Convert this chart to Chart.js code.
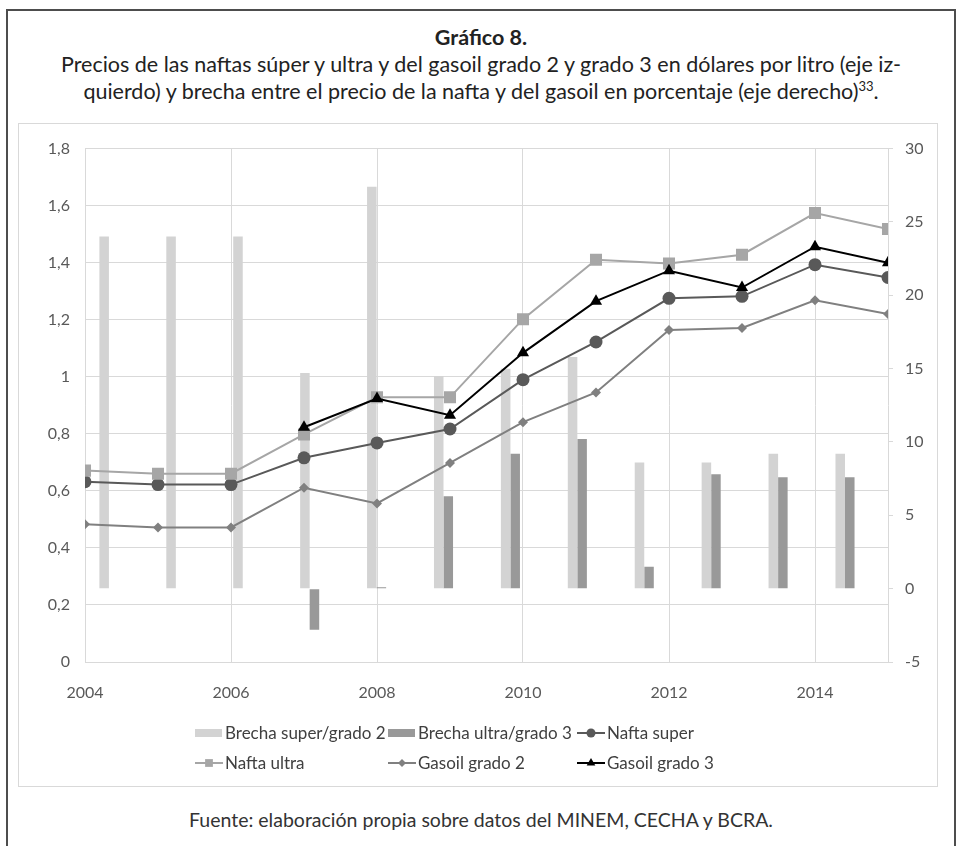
<!DOCTYPE html>
<html>
<head>
<meta charset="utf-8">
<script src="https://cdn.jsdelivr.net/npm/chart.js@4.4.1/dist/chart.umd.min.js"></script>
<style>
  html, body { margin: 0; padding: 0; background: #fff; }
  body { width: 962px; height: 846px; position: relative; overflow: hidden;
         font-family: Lato, "Open Sans", sans-serif; color: #222; }
  #box { position: absolute; left: 6px; top: 9px; width: 950px; height: 860px;
         border: 2px solid #4d4d4d; border-bottom: none; box-sizing: border-box; }
  .ttl { position: absolute; left: 0; width: 962px; text-align: center; font-size: 21.5px; line-height: 27px; }
  #t1 { top: 24px; font-weight: bold; }
  #t2 { top: 51px; }
  #t3 { top: 78px; }
  sup { font-size: 13px; line-height: 0; vertical-align: 8px; }
  #frame { position: absolute; left: 18px; top: 123px; width: 920px; height: 664px;
           border: 1px solid #d9d9d9; box-sizing: border-box; }
  #wrap { position: absolute; left: 18px; top: 124px; width: 918px; height: 660px; }
  #src { position: absolute; left: 0; width: 962px; top: 808px; text-align: center;
         font-size: 19.5px; line-height: 24px; color: #333; }
</style>
</head>
<body>
<div id="box"></div>
<div class="ttl" id="t1">Gráfico 8.</div>
<div class="ttl" id="t2">Precios de las naftas súper y ultra y del gasoil grado 2 y grado 3 en dólares por litro (eje iz-</div>
<div class="ttl" id="t3">quierdo) y brecha entre el precio de la nafta y del gasoil en porcentaje (eje derecho)<sup>33</sup>.</div>
<div id="frame"></div>
<div id="wrap"><canvas id="c" width="918" height="660"></canvas></div>
<div id="src">Fuente: elaboración propia sobre datos del MINEM, CECHA y BCRA.</div>
<script>
// Años de la serie
const years = [2004, 2005, 2006, 2007, 2008, 2009, 2010, 2011, 2012, 2013, 2014, 2015];

// Brechas en porcentaje (eje derecho)
const brechaSuperGrado2 = [24.0, 24.0, 24.0, 14.7, 27.4, 14.5, 15.0, 15.8, 8.6, 8.6, 9.2, 9.2];
const brechaUltraGrado3 = [null, null, null, -2.8, 0.1, 6.3, 9.2, 10.2, 1.5, 7.8, 7.6, 7.6];

// Precios en dólares por litro (eje izquierdo)
const naftaSuper   = [0.632, 0.622, 0.622, 0.716, 0.768, 0.817, 0.990, 1.122, 1.275, 1.282, 1.393, 1.348];
const naftaUltra   = [0.671, 0.660, 0.660, 0.798, 0.928, 0.928, 1.202, 1.410, 1.397, 1.428, 1.574, 1.518];
const gasoilGrado2 = [0.483, 0.472, 0.472, 0.611, 0.556, 0.698, 0.841, 0.945, 1.164, 1.171, 1.268, 1.220];
const gasoilGrado3 = [null, null, null, 0.823, 0.924, 0.865, 1.084, 1.265, 1.372, 1.313, 1.456, 1.400];

// Escalas
const leftMin = 0, leftMax = 1.8, leftStep = 0.2;
const rightMin = -5, rightMax = 30, rightStep = 5;
const yearMin = 2004, yearMax = 2015, yearStep = 2;

const FONT = 'Lato, "Open Sans", sans-serif';
const GRID = '#d9d9d9';
const TICK = '#595959';

const points = vals => years.map((y, i) => ({ x: y, y: vals[i] }));
const comma = v => String(Math.round(v * 10) / 10).replace('.', ',');

function lineSet(label, vals, color, style, radius, order) {
  return {
    type: 'line', label, data: points(vals), xAxisID: 'x', yAxisID: 'y',
    borderColor: color, backgroundColor: color, borderWidth: 2,
    pointStyle: style, pointRadius: radius, pointHoverRadius: radius,
    pointBackgroundColor: color, pointBorderColor: color, pointBorderWidth: 0,
    tension: 0, spanGaps: false, order
  };
}

// Leyenda en dos filas y tres columnas
const rowLegend = {
  id: 'rowLegend',
  afterDraw(chart) {
    const ctx = chart.ctx;
    const cols = [177, 370, 559];
    const rows = [609, 639];
    ctx.save();
    ctx.font = '17px ' + FONT;
    ctx.textBaseline = 'middle';
    chart.data.datasets.forEach((d, i) => {
      const x = cols[i % 3], y = rows[Math.floor(i / 3)];
      if (d.type === 'bar') {
        ctx.fillStyle = d.backgroundColor;
        ctx.fillRect(x, y - 4, 27, 8);
      } else {
        ctx.strokeStyle = d.borderColor;
        ctx.lineWidth = 2;
        ctx.beginPath();
        ctx.moveTo(x, y); ctx.lineTo(x + 28, y);
        ctx.stroke();
        ctx.fillStyle = d.borderColor;
        Chart.helpers.drawPoint(ctx, {
          pointStyle: d.pointStyle, radius: d.legendRadius, rotation: 0, borderWidth: 0
        }, x + 14, y);
      }
      ctx.fillStyle = '#404040';
      ctx.fillText(d.label, x + 30, y + 1);
    });
    ctx.restore();
  }
};

const dsGasoil3 = lineSet('Gasoil grado 3', gasoilGrado3, '#000000', 'triangle', 7, 0);
dsGasoil3.legendRadius = 5;
const dsGasoil2 = lineSet('Gasoil grado 2', gasoilGrado2, '#808080', 'rectRot', 5, 1);
dsGasoil2.legendRadius = 4;
const dsUltra = lineSet('Nafta ultra', naftaUltra, '#a6a6a6', 'rect', 8.5, 2);
dsUltra.legendRadius = 5.5;
const dsSuper = lineSet('Nafta super', naftaSuper, '#595959', 'circle', 6.5, 3);
dsSuper.legendRadius = 4.5;

new Chart(document.getElementById('c'), {
  type: 'bar',
  data: {
    labels: years.map(String),
    datasets: [
      { type: 'bar', label: 'Brecha super/grado 2', data: brechaSuperGrado2,
        xAxisID: 'xb', yAxisID: 'y2', backgroundColor: '#d3d3d3',
        categoryPercentage: 0.57, barPercentage: 1.0, order: 4 },
      { type: 'bar', label: 'Brecha ultra/grado 3', data: brechaUltraGrado3,
        xAxisID: 'xb', yAxisID: 'y2', backgroundColor: '#999999',
        categoryPercentage: 0.57, barPercentage: 1.0, order: 5 },
      dsSuper, dsUltra, dsGasoil2, dsGasoil3
    ]
  },
  options: {
    responsive: false,
    animation: false,
    events: [],
    layout: { padding: { top: 20, left: 0, right: 0, bottom: 0 } },
    plugins: { legend: { display: false }, tooltip: { enabled: false }, title: { display: false } },
    scales: {
      x: {
        type: 'linear', position: 'bottom', min: yearMin, max: yearMax, offset: false,
        ticks: { stepSize: yearStep, color: TICK, font: { family: FONT, size: 16 }, padding: 21,
                 maxRotation: 0, callback: v => String(v) },
        afterBuildTicks: s => { s.ticks = s.ticks.filter(t => (t.value - yearMin) % yearStep === 0); },
        afterFit: s => { s.height = 122; },
        grid: { color: GRID, drawTicks: false, lineWidth: 1, offset: false },
        border: { color: GRID }
      },
      xb: {
        type: 'category', position: 'bottom', display: false, offset: true,
        grid: { display: false }
      },
      y: {
        type: 'linear', position: 'left', min: leftMin, max: leftMax,
        ticks: { stepSize: leftStep, color: TICK, font: { family: FONT, size: 16 }, padding: 15,
                 callback: v => comma(v) },
        afterFit: s => { s.width = 67; },
        grid: { color: GRID, drawTicks: false, lineWidth: 1 },
        border: { color: GRID }
      },
      y2: {
        type: 'linear', position: 'right', min: rightMin, max: rightMax,
        ticks: { stepSize: rightStep, color: TICK, font: { family: FONT, size: 16 }, padding: 12,
                 callback: v => String(v) },
        afterFit: s => { s.width = 48; },
        grid: { drawOnChartArea: false, drawTicks: true, tickLength: 5, color: GRID },
        border: { color: GRID }
      }
    }
  },
  plugins: [rowLegend]
});
</script>
</body>
</html>
